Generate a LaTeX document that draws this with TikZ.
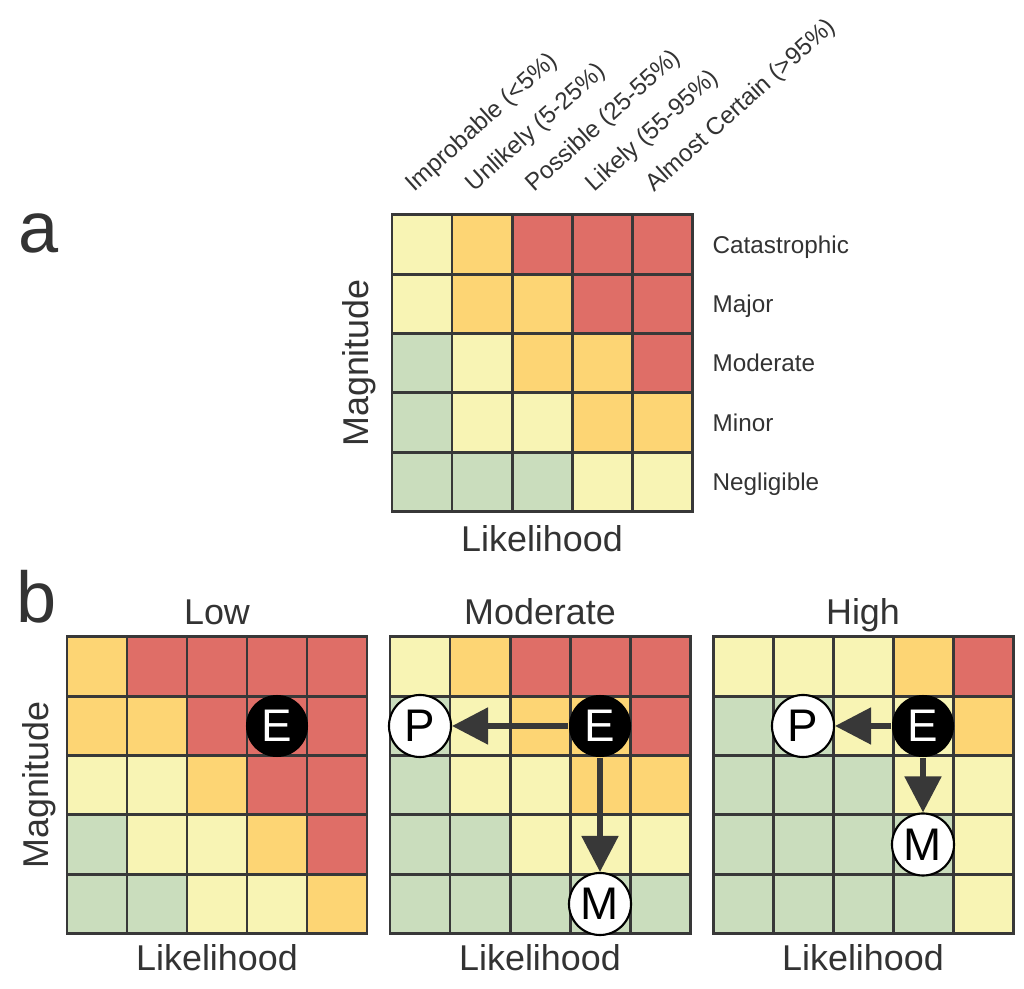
\documentclass[tikz,border=0pt]{standalone}
\usepackage{fontspec}
\setmainfont{Liberation Sans}
\usepackage{xcolor}
\usetikzlibrary{arrows.meta}
\definecolor{cr}{HTML}{DF6E67}
\definecolor{co}{HTML}{FDD574}
\definecolor{cy}{HTML}{F8F4B4}
\definecolor{cg}{HTML}{CADDBD}
\definecolor{gridgray}{HTML}{383838}
\definecolor{txtgray}{HTML}{333333}

\begin{document}
\begin{tikzpicture}[x=0.01cm, y=-0.01cm,
	lbl/.style={text=txtgray, inner sep=0pt},
	big/.style={lbl, font=\fontsize{10.2}{12}\selectfont},
	small/.style={lbl, font=\fontsize{6.9}{8}\selectfont},
	panel/.style={lbl, font=\fontsize{20.5}{24}\selectfont},
	cell/.style={draw=gridgray, line width=0.85pt},
	est/.style={circle, fill=black, text=white, minimum size=0.62cm, inner sep=0pt, font=\fontsize{13}{13}\selectfont},
	alt/.style={est, fill=white, text=black, draw=black, line width=0.6pt},
	shiftarrow/.style={draw=gridgray, line width=1.5pt, -{Triangle[length=0.36cm, width=0.36cm]}}]
\useasboundingbox (0,0) rectangle (1024,989);
\foreach \gx/\gy/\cols in {
	392/215/{cy,co,cr,cr,cr, cy,co,co,cr,cr, cg,cy,co,co,cr, cg,cy,cy,co,co, cg,cg,cg,cy,cy},
	67/637/{co,cr,cr,cr,cr, co,co,cr,cr,cr, cy,cy,co,cr,cr, cg,cy,cy,co,cr, cg,cg,cy,cy,co},
	390/637/{cy,co,cr,cr,cr, cg,cy,co,co,cr, cg,cy,cy,co,co, cg,cg,cy,cy,cy, cg,cg,cg,cg,cg},
	713/637/{cy,cy,cy,co,cr, cg,cg,cy,cy,co, cg,cg,cg,cy,cy, cg,cg,cg,cg,cy, cg,cg,cg,cg,cy}}{
	\foreach \c [count=\i from 0] in \cols
		\filldraw[cell, fill=\c] ({\gx+60*mod(\i,5)}, {\gy+59.3*int(\i/5)}) rectangle ++(60,59.3);
	}
\foreach \t [count=\i from 0] in {Improbable (<5\%), Unlikely (5-25\%), Possible (25-55\%), Likely (55-95\%), Almost Certain (>95\%)}{
	\node[small, rotate=42, anchor=base west] (col\i) at ({414+60*\i}, 193) {\t};
	}
\foreach \t [count=\i from 0] in {Catastrophic, Major, Moderate, Minor, Negligible}{
	\node[small, anchor=base west] (row\i) at (712, {253.4+59.3*\i}) {\t};
	}
\node[panel, anchor=base west] (pa) at (18,253) {a};
\node[panel, anchor=base west] (pb) at (16,623) {b};
\node[big, rotate=90, anchor=base] (maga) at (368,363) {Magnitude};
\node[big, anchor=base] (likea) at (542,552) {Likelihood};
\node[big, rotate=90, anchor=base] (magb) at (48,785) {Magnitude};
\foreach \n/\t/\x in {low/Low/217, mod/Moderate/540, high/High/863}{
	\node[big, anchor=base] (title\n) at (\x,625) {\t};
	\node[big, anchor=base] (like\n) at (\x,971) {Likelihood};
	}
\node[est] (Elow) at (277,726) {E};
\node[est] (Emod) at (600,726) {E};
\node[alt] (Pmod) at (420,726) {P};
\node[alt] (Mmod) at (600,904) {M};
\node[est] (Ehigh) at (923,726) {E};
\node[alt] (Phigh) at (803,726) {P};
\node[alt] (Mhigh) at (923,844.5) {M};
\draw[shiftarrow] (Emod) -- (Pmod);
\draw[shiftarrow] (Emod) -- (Mmod);
\draw[shiftarrow] (Ehigh) -- (Phigh);
\draw[shiftarrow] (Ehigh) -- (Mhigh);
\end{tikzpicture}
\end{document}
